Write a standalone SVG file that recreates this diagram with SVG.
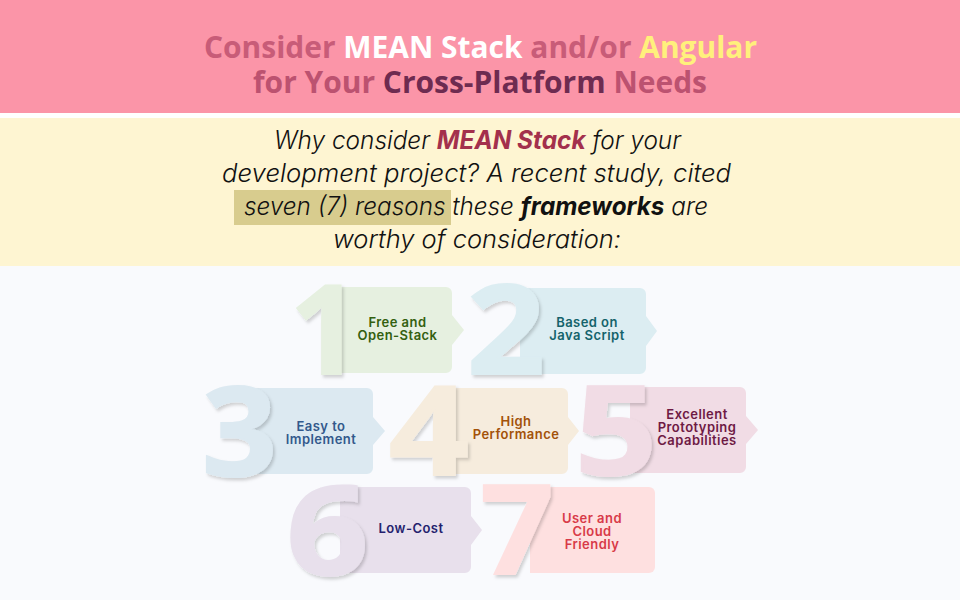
<svg xmlns="http://www.w3.org/2000/svg" width="960" height="600" viewBox="0 0 960 600">
<style>
.title{font-family:"Open Sans","Liberation Sans",sans-serif;font-weight:700;font-size:31px;text-anchor:middle}
.body{font-family:"Inter","Liberation Sans",sans-serif;font-style:italic;font-weight:300;font-size:25px;text-anchor:middle;fill:#111}
.em{font-weight:700}
.num{font-family:"Open Sans","Liberation Sans",sans-serif;font-weight:700;font-size:124px;text-anchor:middle;stroke-width:2;filter:url(#ds)}
.lab{font-family:"Inter","Liberation Sans",sans-serif;font-weight:600;font-size:13px;letter-spacing:.45px;text-anchor:middle}
</style>
<defs><filter id="ds" x="-20%" y="-20%" width="140%" height="140%"><feDropShadow dx="2" dy="2.500" stdDeviation="1.800" flood-color="#000" flood-opacity=".17"/></filter></defs>
<rect width="960" height="600" fill="#f9fafd"/>
<rect width="960" height="113" fill="#fb95a8"/>
<rect y="113" width="960" height="5" fill="#fff"/>
<rect y="118" width="960" height="148" fill="#fef5d2"/>
<g id="title">
<text class="title" x="480.500" y="58" textLength="553" lengthAdjust="spacingAndGlyphs" fill="#c85c78">Consider <tspan fill="#fff">MEAN Stack</tspan> and/or <tspan fill="#fff07c">Angular</tspan></text>
<text class="title" x="480" y="93" textLength="454" lengthAdjust="spacingAndGlyphs" fill="#bc5270">for Your <tspan fill="#6e2b50">Cross-Platform</tspan> Needs</text>
</g>
<g id="intro">
<rect x="234" y="190" width="217" height="35" fill="#d8cc8e"/>
<text class="body" x="477.500" y="149" textLength="407" lengthAdjust="spacingAndGlyphs">Why consider <tspan class="em" fill="#a3304c">MEAN Stack</tspan> for your</text>
<text class="body" x="476.500" y="182" textLength="509" lengthAdjust="spacingAndGlyphs">development project? A recent study, cited</text>
<text class="body" x="476" y="215" textLength="464" lengthAdjust="spacingAndGlyphs">seven (7) reasons these <tspan class="em">frameworks</tspan> are</text>
<text class="body" x="477" y="248" textLength="288" lengthAdjust="spacingAndGlyphs">worthy of consideration:</text>
</g>
<g id="node1">
<path fill="#e6f0e0" d="M330 287H446a6 6 0 0 1 6 6V315L464 330L452 345V367a6 6 0 0 1-6 6H330Z"/>
<text class="num" x="325" y="374" textLength="70" lengthAdjust="spacingAndGlyphs" fill="#e6f0e0" stroke="#e6f0e0">1</text>
<text class="lab" fill="#33600f"><tspan x="397.500" y="327">Free and</tspan><tspan x="397.500" y="340">Open-Stack</tspan></text>
</g>
<g id="node2">
<path fill="#dcedf2" d="M520 288H640a6 6 0 0 1 6 6V316L657 331L646 346V368a6 6 0 0 1-6 6H520Z"/>
<text class="num" x="506" y="374" textLength="78" lengthAdjust="spacingAndGlyphs" fill="#dcedf2" stroke="#dcedf2">2</text>
<text class="lab" fill="#14636b"><tspan x="587" y="327">Based on</tspan><tspan x="587" y="340">Java Script</tspan></text>
</g>
<g id="node3">
<path fill="#dce9f1" d="M250 388H367a6 6 0 0 1 6 6V417L385 431L373 445V468a6 6 0 0 1-6 6H250Z"/>
<text class="num" x="239.500" y="476" textLength="75" lengthAdjust="spacingAndGlyphs" fill="#dce9f1" stroke="#dce9f1">3</text>
<text class="lab" fill="#33598c"><tspan x="321" y="431">Easy to</tspan><tspan x="321" y="444">Implement</tspan></text>
</g>
<g id="node4">
<path fill="#f6ecdd" d="M450 388H562a6 6 0 0 1 6 6V417L579 431L568 445V468a6 6 0 0 1-6 6H450Z"/>
<text class="num" x="429" y="475" textLength="80" lengthAdjust="spacingAndGlyphs" fill="#f6ecdd" stroke="#f6ecdd">4</text>
<text class="lab" fill="#a35209"><tspan x="516" y="426">High</tspan><tspan x="516" y="439">Performance</tspan></text>
</g>
<g id="node5">
<path fill="#f1dce5" d="M630 387H740a6 6 0 0 1 6 6V416L758 430L746 444V467a6 6 0 0 1-6 6H630Z"/>
<text class="num" x="616" y="475" textLength="82" lengthAdjust="spacingAndGlyphs" fill="#f1dce5" stroke="#f1dce5">5</text>
<text class="lab" fill="#6e1a44"><tspan x="697" y="419">Excellent</tspan><tspan x="697" y="432">Prototyping</tspan><tspan x="697" y="445">Capabilities</tspan></text>
</g>
<g id="node6">
<path fill="#e8e0ec" d="M340 487H465a6 6 0 0 1 6 6V516L482 530L471 545V567a6 6 0 0 1-6 6H340Z"/>
<text class="num" x="327.500" y="575" textLength="82" lengthAdjust="spacingAndGlyphs" fill="#e8e0ec" stroke="#e8e0ec">6</text>
<text class="lab" fill="#241f6e"><tspan x="411" y="533">Low-Cost</tspan></text>
</g>
<g id="node7">
<path fill="#fee0e0" d="M530 487H649a6 6 0 0 1 6 6V567a6 6 0 0 1-6 6H530Z"/>
<text class="num" x="517" y="574" textLength="73" lengthAdjust="spacingAndGlyphs" fill="#fee0e0" stroke="#fee0e0">7</text>
<text class="lab" fill="#d83a48"><tspan x="592" y="523">User and</tspan><tspan x="592" y="536">Cloud</tspan><tspan x="592" y="549">Friendly</tspan></text>
</g>
<g id="connectors"/>
</svg>
